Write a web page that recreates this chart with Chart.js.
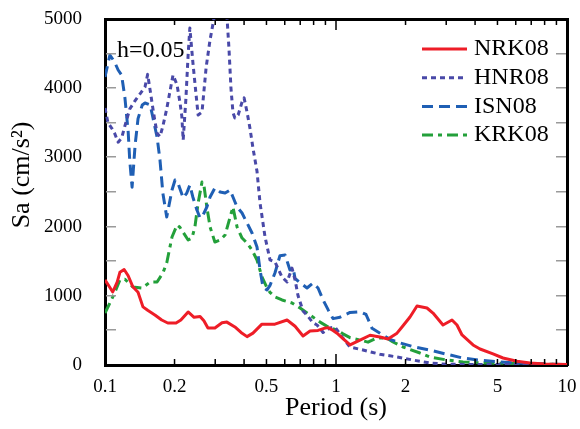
<!DOCTYPE html>
<html>
<head>
<meta charset="utf-8">
<script src="https://cdn.jsdelivr.net/npm/chart.js@4.4.1/dist/chart.umd.min.js"></script>
<style>
html,body{margin:0;padding:0;background:#fff;}
canvas{display:block;}
</style>
</head>
<body>
<canvas id="chart" width="580" height="429"></canvas>
<script>
// [period (s), Sa (cm/s^2)]
const nrk08 = [[0.100,1230],[0.105,1120],[0.108,1055],[0.113,1200],[0.116,1340],[0.121,1380],[0.126,1290],[0.132,1130],[0.139,1050],[0.146,840],[0.153,790],[0.165,720],[0.176,650],[0.187,607],[0.203,607],[0.213,650],[0.229,766],[0.243,690],[0.258,700],[0.268,640],[0.279,535],[0.299,535],[0.321,610],[0.337,620],[0.365,550],[0.388,470],[0.412,410],[0.437,460],[0.478,590],[0.544,590],[0.614,650],[0.665,560],[0.720,420],[0.772,490],[0.836,500],[0.888,530],[0.924,540],[0.971,500],[1.010,460],[1.072,380],[1.150,290],[1.270,360],[1.404,430],[1.550,405],[1.679,376],[1.837,460],[1.931,550],[2.091,694],[2.242,853],[2.477,824],[2.630,751],[2.905,578],[3.178,650],[3.340,578],[3.512,434],[3.919,290],[4.202,231],[4.783,160],[5.284,101],[6.077,55],[6.915,30],[8.031,15],[10.0,8]];
const hnr08 = [[0.100,3714],[0.103,3500],[0.107,3420],[0.110,3350],[0.114,3220],[0.118,3280],[0.123,3500],[0.128,3700],[0.135,3820],[0.142,3920],[0.149,4020],[0.153,4200],[0.158,3900],[0.163,3600],[0.168,3350],[0.173,3300],[0.178,3450],[0.185,3700],[0.191,3950],[0.197,4190],[0.205,4050],[0.211,3800],[0.215,3600],[0.218,3250],[0.224,3850],[0.229,4480],[0.233,4870],[0.240,4380],[0.248,3900],[0.253,3612],[0.263,3655],[0.274,4300],[0.285,4700],[0.296,5000],[0.309,5300],[0.328,5300],[0.337,5050],[0.344,4580],[0.351,4000],[0.358,3650],[0.365,3570],[0.377,3612],[0.392,3800],[0.400,3860],[0.412,3655],[0.424,3425],[0.437,3136],[0.455,2800],[0.469,2340],[0.493,1850],[0.518,1520],[0.544,1490],[0.584,1270],[0.614,1200],[0.645,1400],[0.665,1230],[0.685,1000],[0.720,780],[0.749,720],[0.795,610],[0.828,578],[0.879,470],[0.942,535],[0.990,549],[1.062,405],[1.150,260],[1.309,217],[1.550,155],[1.837,116],[2.154,72],[2.552,29],[3.023,10],[10.0,3]];
const isn08 = [[0.100,4162],[0.105,4480],[0.110,4380],[0.114,4263],[0.118,4190],[0.122,3858],[0.126,3367],[0.128,2950],[0.131,2570],[0.135,3179],[0.139,3560],[0.145,3757],[0.149,3786],[0.157,3757],[0.161,3584],[0.168,3295],[0.173,2962],[0.178,2485],[0.185,2139],[0.195,2529],[0.201,2673],[0.207,2630],[0.218,2413],[0.226,2485],[0.233,2600],[0.240,2428],[0.250,2240],[0.258,2124],[0.266,2170],[0.276,2283],[0.285,2428],[0.299,2557],[0.315,2500],[0.331,2485],[0.348,2529],[0.358,2428],[0.373,2283],[0.392,2196],[0.412,2052],[0.433,1907],[0.455,1705],[0.469,1373],[0.483,1127],[0.503,1084],[0.518,1150],[0.544,1329],[0.572,1580],[0.602,1590],[0.632,1373],[0.652,1400],[0.665,1250],[0.699,1190],[0.749,1113],[0.795,1185],[0.836,1113],[0.879,940],[0.924,800],[0.971,670],[1.041,690],[1.150,760],[1.270,770],[1.349,730],[1.432,530],[1.550,460],[1.713,370],[1.893,320],[2.154,265],[2.552,215],[3.023,155],[3.547,100],[4.202,70],[5.839,30],[8.192,12],[10.0,5]];
const krk08 = [[0.100,751],[0.105,896],[0.110,1040],[0.116,1228],[0.122,1240],[0.132,1127],[0.145,1113],[0.157,1199],[0.168,1200],[0.178,1329],[0.185,1474],[0.195,1850],[0.205,2023],[0.211,1990],[0.229,1806],[0.238,1835],[0.245,1994],[0.253,2341],[0.263,2644],[0.268,2600],[0.276,2283],[0.285,1994],[0.299,1777],[0.315,1806],[0.331,1878],[0.348,2139],[0.358,2283],[0.373,1994],[0.392,1835],[0.412,1763],[0.433,1662],[0.455,1517],[0.478,1272],[0.503,1113],[0.518,1050],[0.544,983],[0.584,940],[0.645,896],[0.699,824],[0.772,722],[0.853,620],[0.942,535],[1.010,506],[1.072,450],[1.150,395],[1.270,361],[1.376,330],[1.505,390],[1.662,390],[1.765,332],[1.950,260],[2.310,173],[2.552,116],[3.023,72],[3.547,43],[4.330,29],[5.839,22],[8.192,12],[10.0,5]];

const seriesNames = ['NRK08', 'HNR08', 'ISN08', 'KRK08'];
const xTickLabels = [0.1, 0.2, 0.5, 1, 2, 5, 10];
const xMinorTicks = [0.2, 0.3, 0.4, 0.5, 0.6, 0.7, 0.8, 0.9, 2, 3, 4, 5, 6, 7, 8, 9];
const xMajorTicks = [1];
const yMarks = [500, 1000, 1500, 2000, 2500, 3000, 3500, 4000, 4500];
const dampingNote = 'h=0.05';

const SERIF = "'Liberation Serif', 'DejaVu Serif', serif";
const BOX = { display: true, color: '#000', width: 3 };

function toPoints(rows){
	return rows.map(r => ({x: r[0], y: r[1]}));
}

// inward tick marks
const tickPlugin = {
	id: 'inwardTicks',
	afterDraw(chart){
		const c = chart.ctx;
		const area = chart.chartArea;
		const sx = chart.scales.x, sy = chart.scales.y;
		c.save();
		c.fillStyle = '#9a9a9a';
		yMarks.forEach(v => {
			const py = Math.round(sy.getPixelForValue(v));
			c.fillRect(area.left + 1, py - 1, 10, 1.5);
			c.fillRect(area.right - 11, py - 1, 10, 1.5);
		});
		c.fillStyle = '#000';
		xMinorTicks.forEach(v => {
			const px = sx.getPixelForValue(v);
			c.fillRect(px - 0.75, area.bottom - 6, 1.5, 5);
			c.fillRect(px - 0.75, area.top + 1, 1.5, 5);
		});
		xMajorTicks.forEach(v => {
			const px = sx.getPixelForValue(v);
			c.fillRect(px - 0.75, area.bottom - 11, 1.5, 10);
			c.fillRect(px - 0.75, area.top + 1, 1.5, 10);
		});
		c.restore();
	}
};

// the note, the legend and the rotated y title
const textPlugin = {
	id: 'texts',
	afterDraw(chart){
		const c = chart.ctx;
		const area = chart.chartArea;
		c.save();
		c.fillStyle = '#000';
		c.font = '24px ' + SERIF;
		c.textBaseline = 'alphabetic';
		c.textAlign = 'left';
		c.fillText(dampingNote, area.left + 12, area.top + 38);

		c.textBaseline = 'middle';
		chart.data.datasets.forEach((ds, i) => {
			const ly = area.top + 30 + i * 28.7;
			const lx = area.right - 145;
			c.strokeStyle = ds.borderColor;
			c.lineWidth = ds.borderWidth;
			c.setLineDash(ds.borderDash);
			c.beginPath();
			c.moveTo(lx, ly);
			c.lineTo(lx + 45, ly);
			c.stroke();
			c.setLineDash([]);
			c.fillText(ds.label, lx + 52, ly);
		});

		c.translate(22, 175);
		c.rotate(-Math.PI / 2);
		c.font = '26px ' + SERIF;
		c.textAlign = 'center';
		c.fillText('Sa (cm/s²)', 0, 0);
		c.restore();
	}
};

function lineSet(label, rows, color, dash){
	return {
		label,
		data: toPoints(rows),
		borderColor: color,
		backgroundColor: color,
		borderWidth: 3,
		borderDash: dash,
		borderJoinStyle: 'round',
		pointRadius: 0,
		tension: 0,
		fill: false
	};
}

new Chart(document.getElementById('chart'), {
	type: 'line',
	data: {
		datasets: [
			lineSet(seriesNames[0], nrk08, '#ee1d27', []),
			lineSet(seriesNames[1], hnr08, '#4949a8', [5, 4]),
			lineSet(seriesNames[2], isn08, '#1f5fb4', [11, 6]),
			lineSet(seriesNames[3], krk08, '#23a03a', [11, 5, 4, 5])
		]
	},
	options: {
		responsive: false,
		animation: false,
		devicePixelRatio: 1,
		layout: { padding: { top: 19, right: 13, bottom: 0, left: 0 } },
		plugins: {
			legend: { display: false },
			tooltip: { enabled: false }
		},
		scales: {
			x: {
				type: 'logarithmic',
				min: 0.1,
				max: 10,
				grid: { display: false, drawTicks: false },
				border: BOX,
				afterBuildTicks: s => { s.ticks = xTickLabels.map(v => ({value: v})); },
				afterFit: s => { s.height = 64; s.paddingLeft = 0; s.paddingRight = 0; },
				ticks: {
					autoSkip: false,
					maxRotation: 0,
					padding: 11,
					color: '#000',
					font: { family: SERIF, size: 19 },
					callback: v => String(v)
				},
				title: {
					display: true,
					text: 'Period (s)',
					color: '#000',
					font: { family: SERIF, size: 26 },
					padding: { top: 0, bottom: 5 }
				}
			},
			xTop: {
				type: 'logarithmic',
				position: 'top',
				min: 0.1,
				max: 10,
				grid: { display: false, drawTicks: false },
				border: BOX,
				ticks: { display: false },
				afterFit: s => { s.height = 0; s.paddingLeft = 0; s.paddingRight = 0; }
			},
			y: {
				min: 0,
				max: 5000,
				grid: { display: false, drawTicks: false },
				border: BOX,
				afterFit: s => { s.width = 105; s.paddingTop = 0; s.paddingBottom = 0; },
				ticks: {
					stepSize: 1000,
					padding: 23,
					color: '#000',
					font: { family: SERIF, size: 19 },
					callback: v => String(v)
				}
			},
			yRight: {
				position: 'right',
				min: 0,
				max: 5000,
				grid: { display: false, drawTicks: false },
				border: BOX,
				ticks: { display: false },
				afterFit: s => { s.width = 0; s.paddingTop = 0; s.paddingBottom = 0; }
			}
		}
	},
	plugins: [tickPlugin, textPlugin]
});
</script>
</body>
</html>
